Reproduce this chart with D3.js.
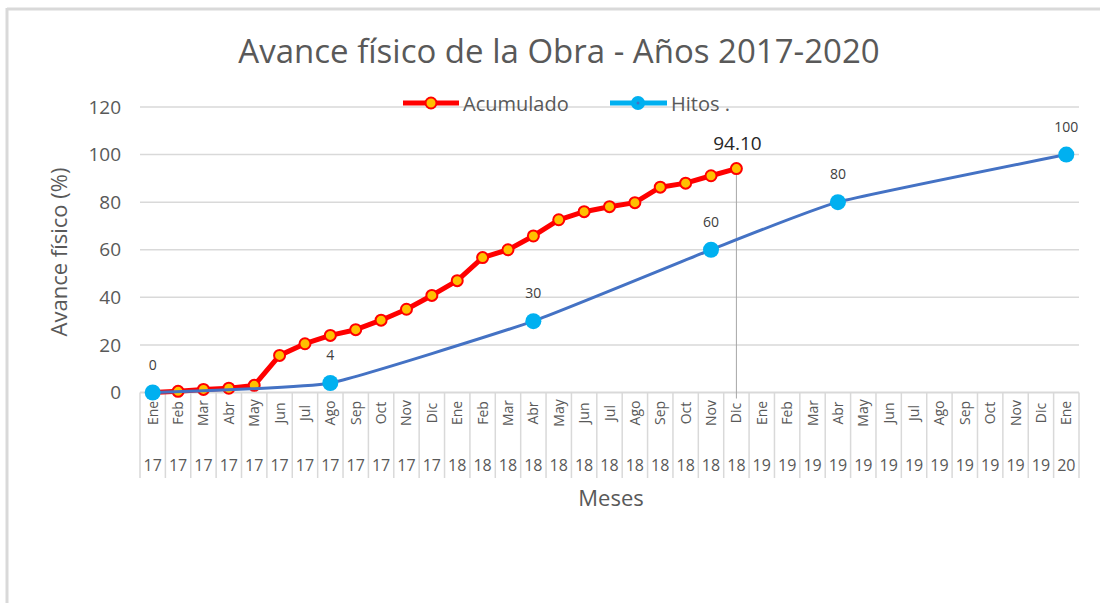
<!DOCTYPE html>
<html>
<head>
<meta charset="utf-8">
<script src="https://cdn.jsdelivr.net/npm/d3@7"></script>
<style>
  body { margin: 0; background: #fff; }
  text { font-family: "Open Sans", sans-serif; }
</style>
</head>
<body>
<div id="chart"></div>
<script>
// meses y años del eje X (Ene 17 .. Ene 20)
var meses = ["Ene","Feb","Mar","Abr","May","Jun","Jul","Ago","Sep","Oct","Nov","Dic",
             "Ene","Feb","Mar","Abr","May","Jun","Jul","Ago","Sep","Oct","Nov","Dic",
             "Ene","Feb","Mar","Abr","May","Jun","Jul","Ago","Sep","Oct","Nov","Dic",
             "Ene"];
var anios = ["17","17","17","17","17","17","17","17","17","17","17","17",
             "18","18","18","18","18","18","18","18","18","18","18","18",
             "19","19","19","19","19","19","19","19","19","19","19","19",
             "20"];

// avance acumulado (Ene 17 .. Dic 18)
var acumulado = [0, 0.5, 1.3, 1.8, 3, 15.6, 20.5, 24, 26.4, 30.4, 35, 40.8,
                 47, 56.7, 60, 65.8, 72.6, 76, 78.1, 79.8, 86.3, 88, 91.1, 94.1];

// hitos (indice de mes, valor)
var hitosMes = [0, 7, 15, 22, 27, 36];
var hitosValor = [0, 4, 30, 60, 80, 100];

var yTicks = [0, 20, 40, 60, 80, 100, 120];

var width = 1100, height = 603;
var svg = d3.select("#chart").append("svg")
    .attr("width", width)
    .attr("height", height);

// marco del grafico
svg.append("line").attr("x1", 7).attr("x2", width).attr("y1", 9).attr("y2", 9)
    .attr("stroke", "#d9d9d9").attr("stroke-width", 3);
svg.append("line").attr("x1", 7).attr("x2", 7).attr("y1", 8).attr("y2", height)
    .attr("stroke", "#d9d9d9").attr("stroke-width", 3);

var idx = d3.range(meses.length);
var xScale = d3.scaleBand().domain(idx).range([140, 1079]);
var xc = function (i) { return xScale(i) + xScale.bandwidth() / 2; };
var yScale = d3.scaleLinear().domain([0, 120]).range([392.5, 107]);

// titulo
svg.append("text")
    .attr("x", 559).attr("y", 63)
    .attr("text-anchor", "middle")
    .attr("font-size", "33px")
    .attr("fill", "#595959")
    .text("Avance físico de la Obra - Años 2017-2020");

// rejilla
svg.selectAll(".grid")
    .data(yTicks.filter(function (d) { return d > 0; }))
    .join("line")
    .attr("x1", 140).attr("x2", 1079)
    .attr("y1", function (d) { return yScale(d); })
    .attr("y2", function (d) { return yScale(d); })
    .attr("stroke", "#d9d9d9").attr("stroke-width", 1.5);

// eje Y
var yAxis = svg.append("g")
    .attr("transform", "translate(140,0)")
    .call(d3.axisLeft(yScale).tickValues(yTicks).tickSize(0).tickPadding(19));
yAxis.select(".domain").remove();
yAxis.selectAll("text")
    .attr("font-size", "19px")
    .attr("fill", "#595959")
    .style("font-family", "'Open Sans', sans-serif");

svg.append("text")
    .attr("transform", "translate(67,252) rotate(-90)")
    .attr("text-anchor", "middle")
    .attr("font-size", "22px")
    .attr("fill", "#595959")
    .text("Avance físico (%)");

// eje X (dos niveles)
svg.append("line")
    .attr("x1", 140).attr("x2", 1079)
    .attr("y1", yScale(0)).attr("y2", yScale(0))
    .attr("stroke", "#d9d9d9").attr("stroke-width", 2);

var bordes = d3.range(meses.length + 1);
svg.selectAll(".tick-sep")
    .data(bordes)
    .join("line")
    .attr("x1", function (d) { return 140 + d * xScale.step(); })
    .attr("x2", function (d) { return 140 + d * xScale.step(); })
    .attr("y1", yScale(0)).attr("y2", 478)
    .attr("stroke", "#d9d9d9").attr("stroke-width", 1.5);

svg.selectAll(".mes")
    .data(idx)
    .join("text")
    .attr("transform", function (i) { return "translate(" + (xc(i) + 5) + ",413) rotate(-90)"; })
    .attr("text-anchor", "middle")
    .attr("font-size", "14px")
    .attr("fill", "#595959")
    .text(function (i) { return meses[i]; });

svg.selectAll(".anio")
    .data(idx)
    .join("text")
    .attr("x", function (i) { return xc(i); })
    .attr("y", 471)
    .attr("text-anchor", "middle")
    .attr("font-size", "16px")
    .attr("fill", "#595959")
    .text(function (i) { return anios[i]; });

svg.append("text")
    .attr("x", 611).attr("y", 506)
    .attr("text-anchor", "middle")
    .attr("font-size", "22px")
    .attr("fill", "#595959")
    .text("Meses");

// linea vertical en Dic 18
var ultimo = acumulado.length - 1;
svg.append("line")
    .attr("x1", xc(ultimo)).attr("x2", xc(ultimo))
    .attr("y1", yScale(acumulado[ultimo])).attr("y2", yScale(0) + 6)
    .attr("stroke", "#a6a6a6").attr("stroke-width", 1);

// serie Acumulado
var lineAcum = d3.line()
    .x(function (d, i) { return xc(i); })
    .y(function (d) { return yScale(d); });
svg.append("path")
    .datum(acumulado)
    .attr("d", lineAcum)
    .attr("fill", "none")
    .attr("stroke", "#FF0000")
    .attr("stroke-width", 5)
    .attr("stroke-linejoin", "round");
svg.selectAll(".acum")
    .data(acumulado)
    .join("circle")
    .attr("cx", function (d, i) { return xc(i); })
    .attr("cy", function (d) { return yScale(d); })
    .attr("r", 5.5)
    .attr("fill", "#FFC000")
    .attr("stroke", "#FF0000")
    .attr("stroke-width", 2);

svg.append("text")
    .attr("x", xc(ultimo) + 1).attr("y", yScale(acumulado[ultimo]) - 19)
    .attr("text-anchor", "middle")
    .attr("font-size", "19px")
    .attr("fill", "#262626")
    .text(acumulado[ultimo].toFixed(2));

// serie Hitos (suavizada, por encima)
var hitos = hitosMes.map(function (m, i) { return { m: m, v: hitosValor[i] }; });
var lineHitos = d3.line()
    .x(function (d) { return xc(d.m); })
    .y(function (d) { return yScale(d.v); })
    .curve(d3.curveCardinal.tension(0.6));
svg.append("path")
    .datum(hitos)
    .attr("d", lineHitos)
    .attr("fill", "none")
    .attr("stroke", "#4472C4")
    .attr("stroke-width", 3);
svg.selectAll(".hito")
    .data(hitos)
    .join("circle")
    .attr("cx", function (d) { return xc(d.m); })
    .attr("cy", function (d) { return yScale(d.v); })
    .attr("r", 8)
    .attr("fill", "#00B0F0");
svg.selectAll(".hito-label")
    .data(hitos)
    .join("text")
    .attr("x", function (d) { return xc(d.m); })
    .attr("y", function (d) { return yScale(d.v) - 23; })
    .attr("text-anchor", "middle")
    .attr("font-size", "14px")
    .attr("fill", "#404040")
    .text(function (d) { return d.v; });

// leyenda
var legend = svg.append("g").attr("transform", "translate(0,103)");
legend.append("line").attr("x1", 403).attr("x2", 459).attr("y1", 0).attr("y2", 0)
    .attr("stroke", "#FF0000").attr("stroke-width", 5);
legend.append("circle").attr("cx", 431).attr("cy", 0).attr("r", 5.5)
    .attr("fill", "#FFC000").attr("stroke", "#FF0000").attr("stroke-width", 2);
legend.append("text").attr("x", 463).attr("y", 8)
    .attr("font-size", "20px").attr("fill", "#595959").text("Acumulado");
legend.append("line").attr("x1", 610).attr("x2", 667).attr("y1", 0).attr("y2", 0)
    .attr("stroke", "#00B0F0").attr("stroke-width", 5);
legend.append("circle").attr("cx", 638).attr("cy", 0).attr("r", 7)
    .attr("fill", "#00B0F0");
legend.append("circle").attr("cx", 638).attr("cy", 0).attr("r", 1.5)
    .attr("fill", "#4472C4");
legend.append("text").attr("x", 671).attr("y", 8)
    .attr("font-size", "20px").attr("fill", "#595959").text("Hitos .");
</script>
</body>
</html>
